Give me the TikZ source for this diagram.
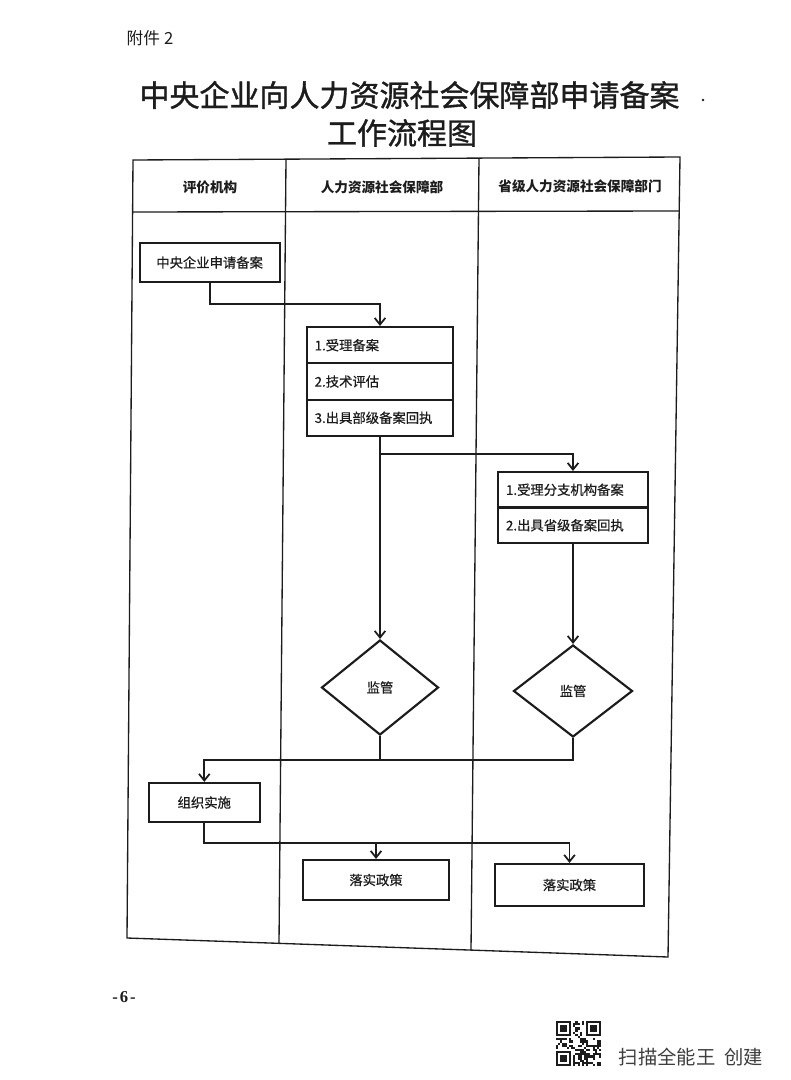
\documentclass[tikz,border=0pt]{standalone}
\usepackage{fontspec}
\setmainfont{Liberation Serif}
\newfontfamily\cjk{Noto Sans CJK SC}
\newfontfamily\cjkt[FakeBold=1.2]{Noto Sans CJK SC}
\newfontfamily\cjkb[FakeBold=0.5]{Noto Sans CJK SC}
\usetikzlibrary{shapes.geometric,arrows.meta,calc}
\definecolor{ink}{HTML}{1C1C1C}
\begin{document}
\begin{tikzpicture}[x=0.75pt,y=-0.75pt,
  tline/.style={draw=ink,line width=1pt},
  box/.style={draw=ink,line width=1.6pt,rectangle,inner sep=0pt,text=ink,
     font=\cjkb\fontsize{10}{12}\selectfont},
  rowa/.style={box,text width=98pt,inner xsep=6pt,align=left,minimum height=27.25pt},
  rowb/.style={box,text width=100.5pt,inner xsep=6pt,align=left,minimum height=26.6pt},
  dia/.style={box,diamond},
  hdr/.style={text=ink,font=\cjk\bfseries\fontsize{10.2}{12}\selectfont},
  conn/.style={draw=ink,line width=1.4pt},
  arr/.style={conn,-{Straight Barb[length=5pt,width=8pt,line width=1.3pt]}}
]
\useasboundingbox (0,0) rectangle (790,1080);
\fill[white] (0,0) rectangle (790,1080);

% page texts
\node[anchor=west,text=ink,font=\cjk\fontsize{12.5}{14}\selectfont] (att) at (122,38) {附件\hspace{0.25em}2};
\node[text=ink,font=\cjkt\fontsize{22.5}{26}\selectfont] (t1) at (409.5,95) {中央企业向人力资源社会保障部申请备案};
\node[text=ink,font=\cjkt\fontsize{22.5}{26}\selectfont] (t2) at (402,133) {工作流程图};
\fill[ink] (703,100) circle (1.1pt);

% table (swimlanes)
\draw[tline] (133,160) -- (680,157) -- (668,957) -- (127,938) -- cycle;
\draw[tline] (132.6,212) -- (679.2,211);
\draw[tline] (286,159.2) -- (279,943.3);
\draw[tline] (479,158.1) -- (471,950.1);
\node[hdr] (h1) at (210,187) {评价机构};
\node[hdr] (h2) at (382,187) {人力资源社会保障部};
\node[hdr] (h3) at (580,186) {省级人力资源社会保障部门};

% nodes
\node[box,minimum width=105pt,minimum height=29.25pt] (start) at (209.6,262.5) {中央企业申请备案};
\node[rowa] (r1a) at (380,345.2) {1.受理备案};
\node[rowa] (r1b) at (380,381.5) {2.技术评估};
\node[rowa] (r1c) at (380,417.8) {3.出具部级备案回执};
\node[rowb] (r2a) at (573,489.75) {1.受理分支机构备案};
\node[rowb] (r2b) at (573,525.25) {2.出具省级备案回执};
\node[dia,minimum width=87.75pt,minimum height=71.25pt] (d1) at (380,687.5) {监管};
\node[dia,minimum width=89.25pt,minimum height=69pt] (d2) at (573,691) {监管};
\node[box,minimum width=83.5pt,minimum height=29.25pt] (org) at (204.3,802.5) {组织实施};
\node[box,minimum width=109.5pt,minimum height=30pt] (pol1) at (376,880) {落实政策};
\node[box,minimum width=111.75pt,minimum height=31.5pt] (pol2) at (569.5,885) {落实政策};

% connectors
\coordinate (k1) at (380,304);
\draw[arr] (start.south) |- (k1) -- (r1a.north);
\draw[arr] (r1c.south) -- (d1.north);
\coordinate (k2) at (380,454);
\draw[arr] (k2) -| (r2a.north);
\draw[arr] (r2b.south) -- (d2.north);
\coordinate (k4) at (204.3,760);
\draw[conn] (d1.south) -- (d1.south |- k4);
\draw[arr] (d2.south) -- (d2.south |- k4) -- (k4) -- (org.north);
\coordinate (k5) at (204.3,843);
\draw[arr] (org.south) -- (k5) -| (pol2.north);
\draw[arr] (pol1.north |- k5) -- (pol1.north);

% footer
\node[text=ink,font=\bfseries\fontsize{12.5}{14}\selectfont] (pg) at (124,997) {-\kern1.5pt6\kern1.5pt-};
\begin{scope}[shift={(556,1021)},x=1.6125pt,y=-1.6125pt]
  \foreach \a/\b in {0/0,14/0,0/14}{
    \fill[ink] (\a,\b) rectangle +(7,7);
    \fill[white] (\a+1,\b+1) rectangle +(5,5);
    \fill[ink] (\a+2,\b+2) rectangle +(3,3);
  }
  \pgfmathsetseed{11}
  \foreach \i in {0,...,20}{\foreach \j in {0,...,20}{
    \pgfmathtruncatemacro{\qs}{((\i<8)&&(\j<8))||((\i>12)&&(\j<8))||((\i<8)&&(\j>12))}
    \pgfmathtruncatemacro{\qo}{rnd<0.5}
    \ifnum\qs=0 \ifnum\qo=1 \fill[ink] (\i,\j) rectangle +(1,1);\fi\fi
  }}
\end{scope}
\node[anchor=west,text=ink!85,font=\cjk\fontsize{14.5}{16}\selectfont] (scan) at (614,1057) {扫描全能王\hspace{0.45em}创建};
\end{tikzpicture}
\end{document}
